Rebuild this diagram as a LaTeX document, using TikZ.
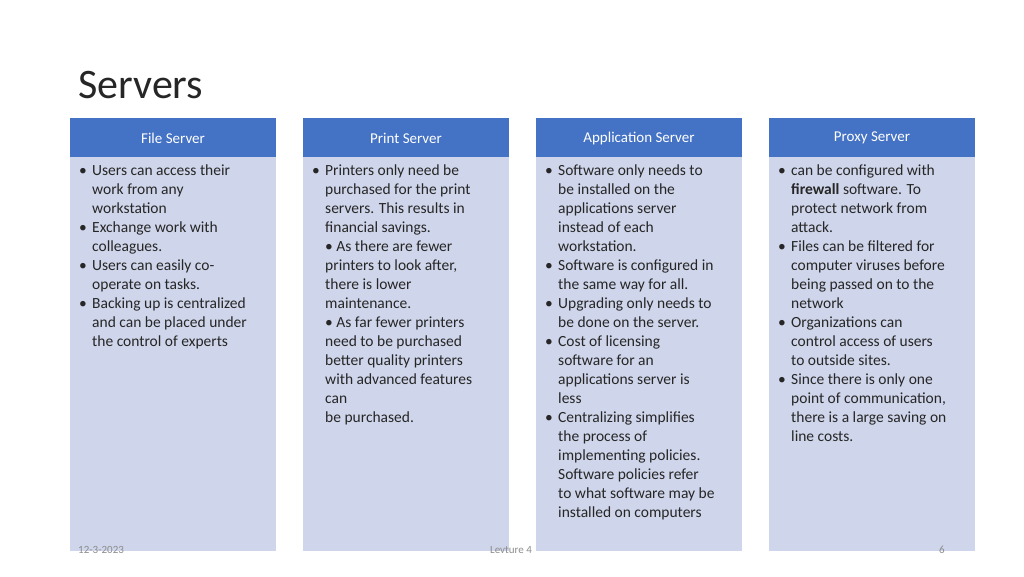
\documentclass[tikz,border=0pt]{standalone}
\usepackage{fontspec}
\setmainfont{Carlito}
\definecolor{headblue}{HTML}{4472C4}
\definecolor{bodyblue}{HTML}{CFD5EA}
\newcommand{\blt}{\makebox[13pt][l]{\textbullet}}
\newcommand{\ind}{\hspace*{13pt}}
\tikzset{
  headbox/.style={fill=headblue, draw=none, text=white, font=\fontsize{15}{18}\selectfont},
  bodybox/.style={fill=bodyblue, draw=none},
  bodytext/.style={anchor=north west, align=left, inner sep=0pt, font=\fontsize{15.5}{19}\selectfont, text=black!85},
  foot/.style={text=black!45, font=\fontsize{11}{13}\selectfont, inner sep=0pt}
}
\begin{document}
\begin{tikzpicture}[x=1pt, y=-1pt]
\useasboundingbox (0,0) rectangle (1024,576);

% title
\node (title) [anchor=west, inner sep=0pt, font=\fontsize{42}{48}\selectfont, text=black!85] at (78,85) {Servers};

% columns
\foreach \x/\name/\lab in {70/file/File Server, 303/print/Print Server, 536/app/Application Server, 769/proxy/Proxy Server}{
  \fill[bodybox] (\x,157) rectangle ++(206,394);
  \fill[headblue] (\x,118) rectangle ++(206,39);
  \node (\name head) [headbox] at (\x+103,138) {\lab};
}

% texts
\node (filetext) [bodytext] at (79,165) {\blt Users can access their\\\ind work from any\\\ind workstation\\
\blt Exchange work with\\\ind colleagues.\\\blt Users can easily co-\\\ind operate on tasks.\\
\blt Backing up is centralized\\\ind and can be placed under\\\ind the control of experts};
\node (printtext) [bodytext] at (312,165) {\blt Printers only need be\\\ind purchased for the print\\\ind servers. This results in\\
\ind financial savings.\\\ind \textbullet{} As there are fewer\\\ind printers to look after,\\\ind there is lower\\\ind maintenance.\\
\ind \textbullet{} As far fewer printers\\\ind need to be purchased\\\ind better quality printers\\\ind with advanced features\\\ind can\\\ind be purchased.};
\node (apptext) [bodytext] at (545,165) {\blt Software only needs to\\\ind be installed on the\\\ind applications server\\\ind instead of each\\\ind workstation.\\
\blt Software is configured in\\\ind the same way for all.\\\blt Upgrading only needs to\\\ind be done on the server.\\
\blt Cost of licensing\\\ind software for an\\\ind applications server is\\\ind less\\
\blt Centralizing simplifies\\\ind the process of\\\ind implementing policies.\\\ind Software policies refer\\\ind to what software may be\\\ind installed on computers};
\node (proxytext) [bodytext] at (778,165) {\blt can be configured with\\\ind \textbf{firewall} software. To\\\ind protect network from\\\ind attack.\\
\blt Files can be filtered for\\\ind computer viruses before\\\ind being passed on to the\\\ind network\\
\blt Organizations can\\\ind control access of users\\\ind to outside sites.\\
\blt Since there is only one\\\ind point of communication,\\\ind there is a large saving on\\\ind line costs.};

% footer
\node (date) [foot, anchor=west] at (78,550) {12-3-2023};
\node (lecture) [foot] at (511,550) {Levture 4};
\node (page) [foot] at (942,550) {6};
\end{tikzpicture}
\end{document}
